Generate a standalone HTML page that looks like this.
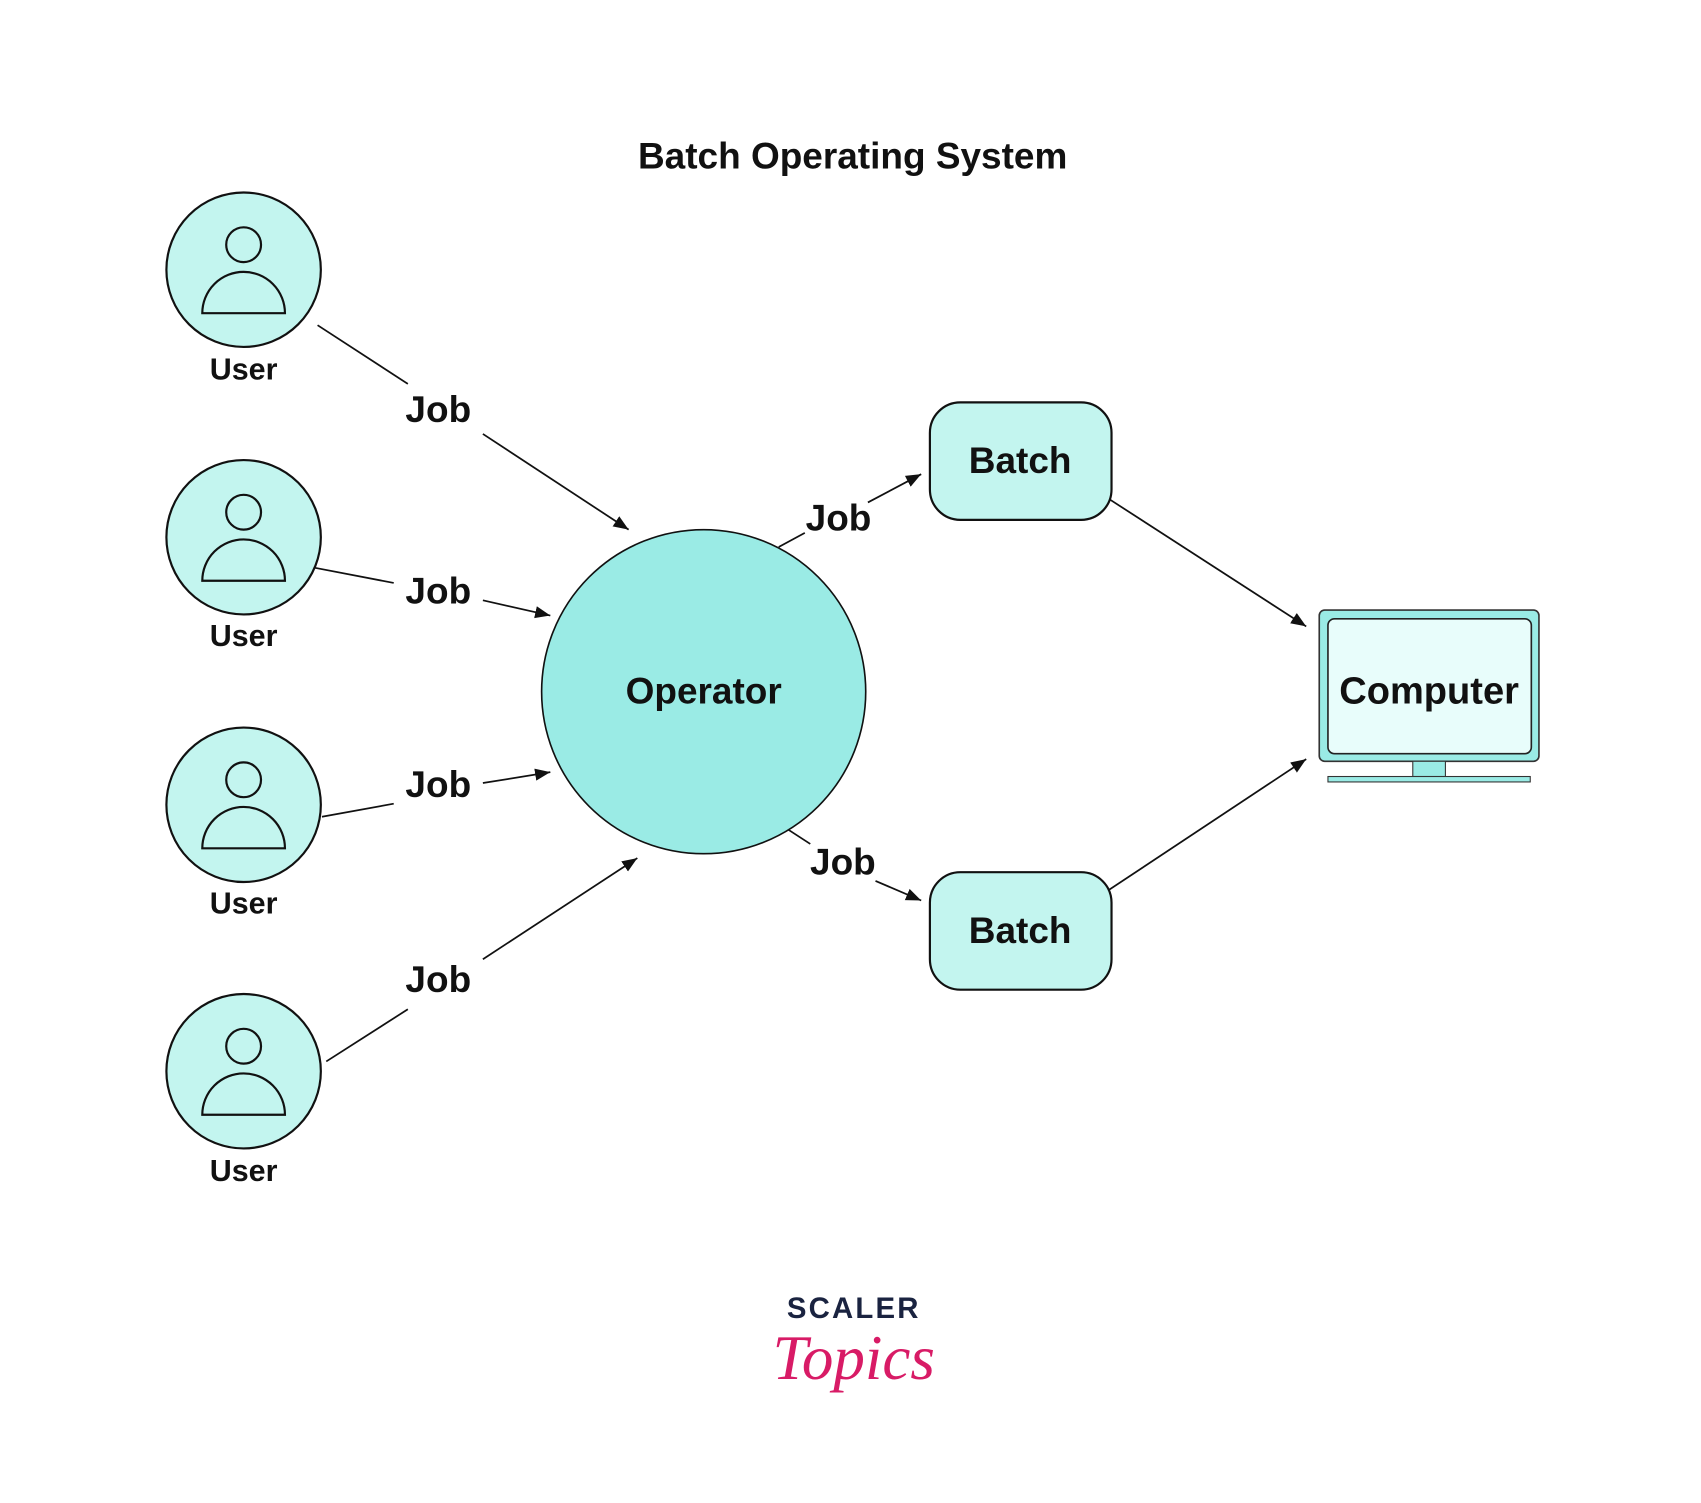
<!DOCTYPE html>
<html><head><meta charset="utf-8"><style>
html,body{margin:0;padding:0;background:#fff;}
svg{display:block;}
text{font-family:"Liberation Sans",sans-serif;font-weight:bold;fill:#111;}
</style></head><body>
<svg width="1701" height="1503" viewBox="0 0 1564 1382" preserveAspectRatio="none" xmlns="http://www.w3.org/2000/svg">
<defs>
<marker id="a" viewBox="0 0 10 10" refX="10" refY="5" markerWidth="7" markerHeight="7" orient="auto" markerUnits="userSpaceOnUse" >
<path d="M0,0 L10,5 L0,10 z" fill="#111"/></marker>
<marker id="b" viewBox="0 0 10 10" refX="10" refY="5" markerWidth="14" markerHeight="14" orient="auto" markerUnits="userSpaceOnUse"><path d="M0,1 L10,5 L0,9 z" fill="#111"/></marker>
</defs>
<rect width="1564" height="1382" fill="#fff"/>
<text x="784" y="155" font-size="34" text-anchor="middle">Batch Operating System</text>

<g stroke="#111" stroke-width="2" fill="#c3f5ef">
<g transform="translate(224,248)"><circle r="71"/><circle cy="-23" r="16" fill="none"/><path d="M-38,40 A38,38 0 0 1 38,40 Z" fill="none"/></g>
<g transform="translate(224,494)"><circle r="71"/><circle cy="-23" r="16" fill="none"/><path d="M-38,40 A38,38 0 0 1 38,40 Z" fill="none"/></g>
<g transform="translate(224,740)"><circle r="71"/><circle cy="-23" r="16" fill="none"/><path d="M-38,40 A38,38 0 0 1 38,40 Z" fill="none"/></g>
<g transform="translate(224,985)"><circle r="71"/><circle cy="-23" r="16" fill="none"/><path d="M-38,40 A38,38 0 0 1 38,40 Z" fill="none"/></g>
</g>
<g font-size="28" text-anchor="middle">
<text x="224" y="349">User</text><text x="224" y="594">User</text><text x="224" y="840">User</text><text x="224" y="1086">User</text>
</g>

<circle cx="647" cy="636" r="149" fill="#9aebe5" stroke="#111" stroke-width="1.5"/>
<text x="647" y="647" font-size="34" text-anchor="middle">Operator</text>

<rect x="855" y="370" width="167" height="108" rx="28" fill="#c3f5ef" stroke="#111" stroke-width="2"/>
<text x="938" y="435" font-size="34" text-anchor="middle">Batch</text>
<rect x="855" y="802" width="167" height="108" rx="28" fill="#c3f5ef" stroke="#111" stroke-width="2"/>
<text x="938" y="867" font-size="34" text-anchor="middle">Batch</text>

<rect x="1213" y="561" width="202" height="139" rx="5" fill="#9aebe5" stroke="#333" stroke-width="1.5"/>
<rect x="1221" y="569" width="187" height="124" rx="6" fill="#e8fdfb" stroke="#222" stroke-width="1.5"/>
<rect x="1299" y="700" width="30" height="14" fill="#9aebe5" stroke="#333" stroke-width="1"/>
<rect x="1221" y="714" width="186" height="5" fill="#9aebe5" stroke="#333" stroke-width="1"/>
<text x="1314" y="647" font-size="35" text-anchor="middle">Computer</text>

<g stroke="#111" stroke-width="1.6" fill="none">
<line x1="292" y1="299" x2="375" y2="353"/><line x1="444" y1="399" x2="578" y2="487" marker-end="url(#b)"/>
<line x1="289" y1="522" x2="362" y2="536"/><line x1="444" y1="552" x2="506" y2="566" marker-end="url(#b)"/>
<line x1="296" y1="751" x2="362" y2="739"/><line x1="444" y1="720" x2="506" y2="710" marker-end="url(#b)"/>
<line x1="300" y1="976" x2="375" y2="928"/><line x1="444" y1="882" x2="586" y2="789" marker-end="url(#b)"/>
<line x1="716" y1="503" x2="740" y2="490"/><line x1="798" y1="462" x2="847" y2="436" marker-end="url(#b)"/>
<line x1="725" y1="763" x2="745" y2="776"/><line x1="805" y1="810" x2="847" y2="828" marker-end="url(#b)"/>
<line x1="1020" y1="459" x2="1201" y2="576" marker-end="url(#b)"/>
<line x1="1020" y1="818" x2="1201" y2="698" marker-end="url(#b)"/>
</g>
<g font-size="34" text-anchor="middle">
<text x="403" y="388">Job</text><text x="403" y="555">Job</text><text x="403" y="733">Job</text><text x="403" y="912">Job</text>
<text x="771" y="488">Job</text><text x="775" y="804">Job</text>
</g>

<text x="785" y="1212" font-size="27" text-anchor="middle" fill="#1a2340" style="fill:#1a2340;letter-spacing:2px">SCALER</text>
<text x="785" y="1268" font-size="58" text-anchor="middle" style="font-family:'Liberation Serif',serif;font-style:italic;font-weight:normal;fill:#d81b66">Topics</text>
</svg>
</body></html>
